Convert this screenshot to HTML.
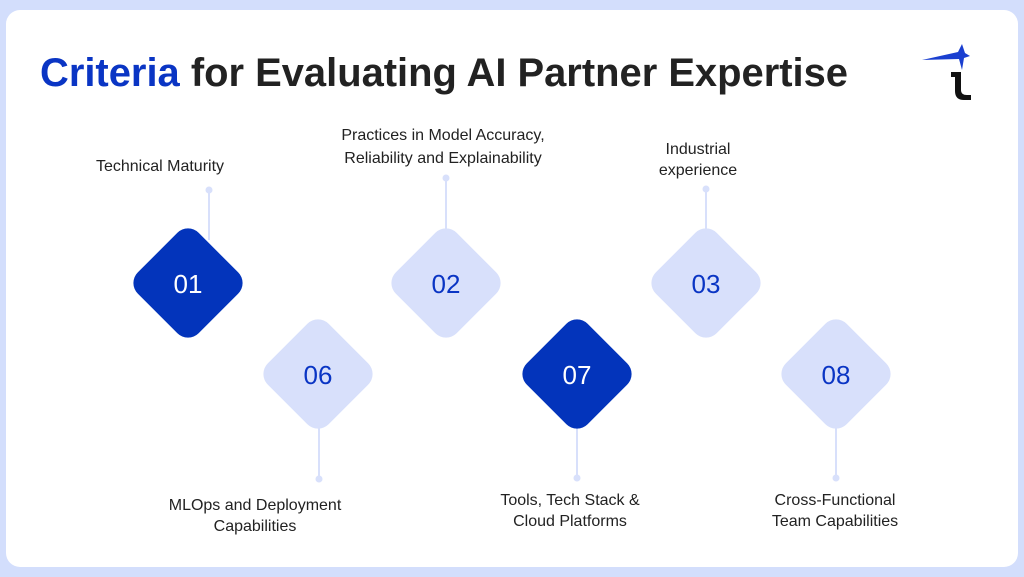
<!DOCTYPE html>
<html><head><meta charset="utf-8"><style>
html,body{margin:0;padding:0;background:#d3defc;}
svg{display:block}
text{font-family:"Liberation Sans",Arial,sans-serif}
</style></head><body>
<svg width="1024" height="577" viewBox="0 0 1024 577" xmlns="http://www.w3.org/2000/svg">
<rect x="0" y="0" width="1024" height="577" fill="#d3defc"/>
<rect x="6" y="10" width="1012" height="557" rx="14" fill="#ffffff"/>
<text x="40" y="86" font-size="40" font-weight="bold" textLength="808" lengthAdjust="spacingAndGlyphs" fill="#222"><tspan fill="#0a35c4">Criteria</tspan> for Evaluating AI Partner Expertise</text>
<!-- logo -->
<path d="M922 60 L958 52 L962 44 L965 53 L970 56 L964 58 L962 70 L959 59 Z" fill="#1a3fd0"/>
<path d="M951 72 L961 72 L961 90 Q961 95 967 95 L971 95 L971 100 L964 100 Q955 100 955 91 L955 77 L951 77 Z" fill="#111"/>
<!-- connectors -->
<g stroke="#d8e0fb" stroke-width="2">
<line x1="209" y1="190" x2="209" y2="240"/>
<line x1="446" y1="178" x2="446" y2="240"/>
<line x1="706" y1="189" x2="706" y2="240"/>
<line x1="319" y1="420" x2="319" y2="479"/>
<line x1="577" y1="420" x2="577" y2="478"/>
<line x1="836" y1="420" x2="836" y2="478"/>
</g>
<g fill="#d8e0fb">
<circle cx="209" cy="190" r="3.5"/><circle cx="446" cy="178" r="3.5"/><circle cx="706" cy="189" r="3.5"/>
<circle cx="319" cy="479" r="3.5"/><circle cx="577" cy="478" r="3.5"/><circle cx="836" cy="478" r="3.5"/>
</g>
<!-- diamonds -->
<g>
<rect x="-43" y="-43" width="86" height="86" rx="15" fill="#0334bb" transform="translate(188,283) rotate(45)"/>
<rect x="-43" y="-43" width="86" height="86" rx="15" fill="#d8e0fb" transform="translate(446,283) rotate(45)"/>
<rect x="-43" y="-43" width="86" height="86" rx="15" fill="#d8e0fb" transform="translate(706,283) rotate(45)"/>
<rect x="-43" y="-43" width="86" height="86" rx="15" fill="#d8e0fb" transform="translate(318,374) rotate(45)"/>
<rect x="-43" y="-43" width="86" height="86" rx="15" fill="#0334bb" transform="translate(577,374) rotate(45)"/>
<rect x="-43" y="-43" width="86" height="86" rx="15" fill="#d8e0fb" transform="translate(836,374) rotate(45)"/>
</g>
<g font-size="26" text-anchor="middle">
<text x="188" y="293" fill="#fff">01</text>
<text x="446" y="293" fill="#0a35c4">02</text>
<text x="706" y="293" fill="#0a35c4">03</text>
<text x="318" y="384" fill="#0a35c4">06</text>
<text x="577" y="384" fill="#fff">07</text>
<text x="836" y="384" fill="#0a35c4">08</text>
</g>
<g font-size="16" fill="#222" text-anchor="middle">
<text x="160" y="171">Technical Maturity</text>
<text x="443" y="140">Practices in Model Accuracy,</text>
<text x="443" y="163">Reliability and Explainability</text>
<text x="698" y="154">Industrial</text>
<text x="698" y="175">experience</text>
<text x="255" y="510">MLOps and Deployment</text>
<text x="255" y="531">Capabilities</text>
<text x="570" y="505">Tools, Tech Stack &amp;</text>
<text x="570" y="526">Cloud Platforms</text>
<text x="835" y="505">Cross-Functional</text>
<text x="835" y="526">Team Capabilities</text>
</g>
</svg>
</body></html>
